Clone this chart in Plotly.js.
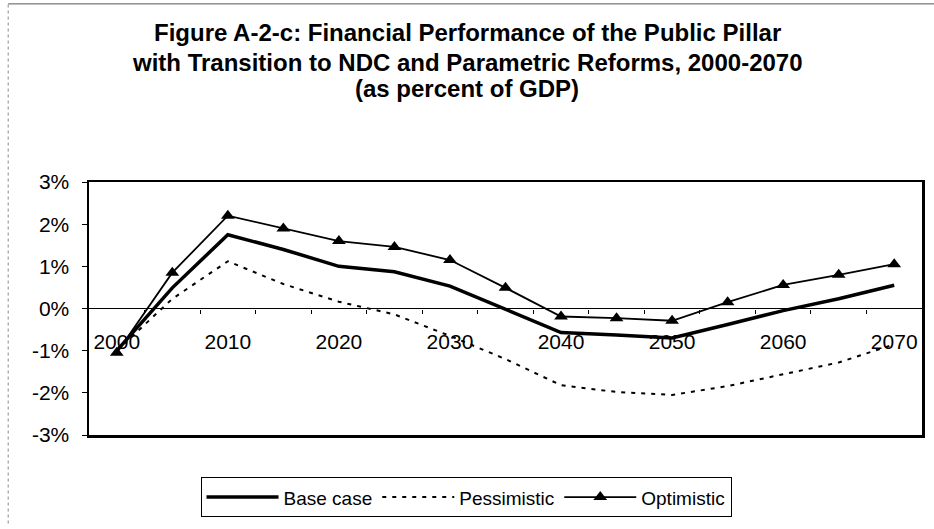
<!DOCTYPE html>
<html>
<head>
<meta charset="utf-8">
<script src="https://cdn.plot.ly/plotly-3.0.1.min.js"></script>
<style>
  html, body { margin: 0; padding: 0; background: #fff; }
  #chart { width: 934px; height: 529px; }
</style>
</head>
<body>
<div id="chart"></div>
<script>
// years on the category axis, every 5 years
const years = [2000, 2005, 2010, 2015, 2020, 2025, 2030, 2035, 2040, 2045, 2050, 2055, 2060, 2065, 2070];

// balance as percent of GDP
const baseCase    = [-1.0, 0.49, 1.75, 1.40, 1.00, 0.87, 0.53, -0.03, -0.57, -0.63, -0.70, -0.38, -0.05, 0.23, 0.55];
const pessimistic = [-1.0, 0.23, 1.12, 0.58, 0.16, -0.14, -0.65, -1.20, -1.82, -1.98, -2.05, -1.84, -1.56, -1.28, -0.85];
const optimistic  = [-1.05, 0.85, 2.20, 1.90, 1.60, 1.46, 1.15, 0.49, -0.19, -0.23, -0.29, 0.15, 0.56, 0.80, 1.05];

// axis labels
const xLabelVals = [2000, 2010, 2020, 2030, 2040, 2050, 2060, 2070];
const xLabelText = ["2000", "2010", "2020", "2030", "2040", "2050", "2060", "2070"];
const xBoundaries = [2002.5, 2007.5, 2012.5, 2017.5, 2022.5, 2027.5, 2032.5, 2037.5, 2042.5, 2047.5, 2052.5, 2057.5, 2062.5, 2067.5];
const yTickVals = [-3, -2, -1, 0, 1, 2, 3];
const yTickText = ["-3%", "-2%", "-1%", "0%", "1%", "2%", "3%"];

const titleLines = [
    "Figure A-2-c: Financial Performance of the Public Pillar",
    "with Transition to NDC and Parametric Reforms, 2000-2070",
    "(as percent of GDP)"
];

const font = "Liberation Sans, Arial, sans-serif";
const xRange = [1997.5, 2072.5];

const traces = [
    {
        // drawn on the overlaying axis so the zero-line labels get rendered
        x: years, y: baseCase, name: "Base case",
        xaxis: "x2", yaxis: "y",
        type: "scatter", mode: "lines",
        line: { color: "#000", width: 3.5 }
    },
    {
        x: years, y: pessimistic, name: "Pessimistic",
        type: "scatter", mode: "lines",
        line: { color: "#000", width: 2, dash: "4px,6px" }
    },
    {
        x: years, y: optimistic, name: "Optimistic",
        type: "scatter", mode: "lines+markers",
        line: { color: "#000", width: 1.8 },
        marker: { symbol: "triangle-up", size: 12, color: "#000" }
    }
];

const titleY = [1.592, 1.473, 1.368];
const annotations = titleLines.map((t, i) => ({
    text: "<b>" + t + "</b>",
    xref: "paper", yref: "paper",
    x: 0.4538, y: titleY[i],
    xanchor: "center", yanchor: "middle",
    showarrow: false,
    font: { family: font, size: 24, color: "#000" }
}));

const layout = {
    width: 934,
    height: 529,
    paper_bgcolor: "#fff",
    plot_bgcolor: "#fff",
    margin: { l: 89, r: 12, t: 182, b: 90, pad: 0 },
    font: { family: font, size: 19, color: "#000" },
    showlegend: true,
    legend: {
        orientation: "h",
        x: 0.4526, xanchor: "center",
        y: -0.167, yanchor: "top",
        bordercolor: "#000", borderwidth: 1,
        bgcolor: "#fff",
        itemwidth: 72,
        traceorder: "normal",
        font: { family: font, size: 19, color: "#000" }
    },
    xaxis: {
        range: xRange,
        showline: true, mirror: true, linecolor: "#000", linewidth: 2.5,
        showticklabels: false, ticks: "",
        showgrid: false, zeroline: false
    },
    // labels and boundary ticks sit on the zero line
    xaxis2: {
        overlaying: "x", anchor: "free", position: 0.5, side: "bottom",
        range: xRange,
        tickmode: "array", tickvals: xLabelVals, ticktext: xLabelText,
        ticks: "", ticklabelstandoff: 18,
        minor: { tickvals: xBoundaries, ticks: "outside", ticklen: 4, tickcolor: "#000", tickwidth: 1, showgrid: false },
        showline: false, showgrid: false, zeroline: false,
        tickfont: { family: font, size: 21, color: "#000" }
    },
    yaxis: {
        range: [-3, 3],
        tickmode: "array", tickvals: yTickVals, ticktext: yTickText,
        ticks: "outside", ticklen: 5, tickcolor: "#000",
        ticklabelstandoff: 8,
        showline: true, mirror: true, linecolor: "#000", linewidth: 2.5,
        showgrid: false,
        zeroline: true, zerolinecolor: "#000", zerolinewidth: 1.5,
        tickfont: { family: font, size: 21, color: "#000" }
    },
    annotations: annotations,
    shapes: [
        // faint outer frame of the scanned figure (left and top edges)
        { type: "line", xref: "paper", yref: "paper", x0: -0.097, x1: -0.097, y0: -0.35, y1: 1.704,
          line: { color: "#888", width: 1, dash: "dot" } },
        { type: "line", xref: "paper", yref: "paper", x0: -0.097, x1: 1.02, y0: 1.704, y1: 1.704,
          line: { color: "#555", width: 1 } }
    ]
};

Plotly.newPlot("chart", traces, layout, { staticPlot: true });
</script>
</body>
</html>
